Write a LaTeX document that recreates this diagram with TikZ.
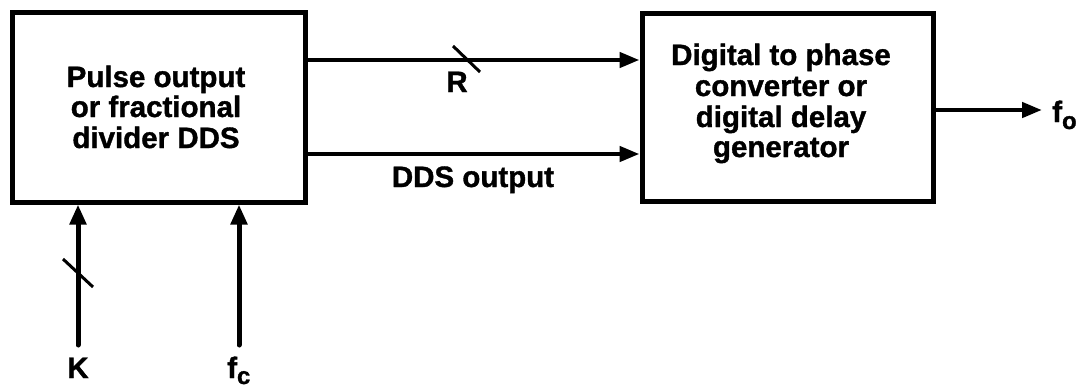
\documentclass[tikz,border=0pt]{standalone}
\usepackage{fontspec}
\setmainfont{Liberation Sans}[BoldFeatures={FakeBold=1.2}]
\usetikzlibrary{arrows.meta}
\begin{document}
\begin{tikzpicture}[x=1pt,y=-1pt,
  box/.style={draw, line width=5pt, inner sep=0pt},
  arr/.style={line width=4.5pt, -{Triangle[length=20pt,width=15pt]}},
  varr/.style={line width=5pt, line cap=round, -{Triangle[length=20pt,width=16pt]}},
  txt/.style={font=\fontsize{29.5}{30.5}\selectfont\bfseries, anchor=base, inner sep=0pt},
  slashline/.style={line width=3pt}]
\useasboundingbox (0,0) rectangle (1086,388);
% boxes
\node[box, minimum width=293pt, minimum height=190pt] (L) at (158.5,107) {};
\node[box, minimum width=291pt, minimum height=188pt] (Rb) at (787.5,107) {};
% box texts
\node[txt] (l1) at (156,87) {Pulse output};
\node[txt] (l2) at (156,117) {or fractional};
\node[txt] (l3) at (156,148) {divider DDS};
\node[txt] (r1) at (781,65) {Digital to phase};
\node[txt] (r2) at (781,96) {converter or};
\node[txt] (r3) at (781,127) {digital delay};
\node[txt] (r4) at (781,157) {generator};
% horizontal connectors
\coordinate (a1) at (305,60);
\coordinate (a2) at (305,154);
\draw[arr] (a1) -- (a1 -| Rb.west);
\draw[arr] (a2) -- (a2 -| Rb.west);
\draw[slashline] (453,46) -- (480,72);
\node[txt] (R) at (457,92) {R};
\node[txt] (ddso) at (473,187) {DDS output};
% output
\coordinate (o1) at (933,110);
\coordinate (otip) at (1042,110);
\draw[arr] (o1) -- (otip);
\node[txt, anchor=base west] (fo) at (1052,122) {f\raisebox{-7pt}{\fontsize{24}{24}\selectfont o}};
% inputs
\coordinate (kst) at (78,345);
\coordinate (cst) at (239,345);
\draw[varr] (kst) -- (kst |- L.south);
\draw[varr] (cst) -- (cst |- L.south);
\draw[slashline] (63,259) -- (93,287);
\node[txt] (K) at (78,378) {K};
\node[txt, anchor=base west] (fc) at (227,378) {f\raisebox{-6pt}{\fontsize{24}{24}\selectfont c}};
\end{tikzpicture}
\end{document}
